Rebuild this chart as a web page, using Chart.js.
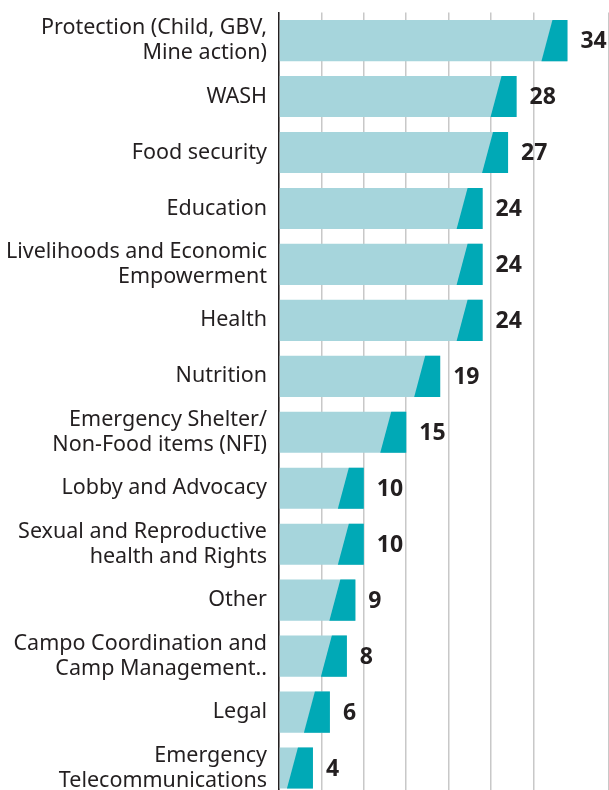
<!DOCTYPE html>
<html>
<head>
<meta charset="utf-8">
<script src="https://cdn.jsdelivr.net/npm/chart.js@4.4.1/dist/chart.umd.min.js"></script>
<style>
  html, body { margin: 0; padding: 0; background: #fff; overflow: hidden; }
  #wrap { width: 609px; height: 796px; }
</style>
</head>
<body>
<div id="wrap"><canvas id="chart1"></canvas></div>
<script>
var categories = [
    ["Protection (Child, GBV,", "Mine action)"],
    "WASH",
    "Food security",
    "Education",
    ["Livelihoods and Economic", "Empowerment"],
    "Health",
    "Nutrition",
    ["Emergency Shelter/", "Non-Food items (NFI)"],
    "Lobby and Advocacy",
    ["Sexual and Reproductive", "health and Rights"],
    "Other",
    ["Campo Coordination and", "Camp Management.."],
    "Legal",
    ["Emergency", "Telecommunications"]
];
var counts = [34, 28, 27, 24, 24, 24, 19, 15, 10, 10, 9, 8, 6, 4];

var lightTeal = '#a6d5dc';
var darkTeal = '#00a9b6';
var textColor = '#231f20';

// dark slanted cap at the end of every bar + the value label
var barEnds = {
    id: 'barEnds',
    afterDatasetsDraw: function(chart) {
        var ctx = chart.ctx;
        var meta = chart.getDatasetMeta(0);
        ctx.save();
        meta.data.forEach(function(bar, i) {
            var top = bar.y - bar.height / 2;
            var bottom = bar.y + bar.height / 2;
            ctx.fillStyle = darkTeal;
            ctx.beginPath();
            ctx.moveTo(bar.x - 15, top);
            ctx.lineTo(bar.x, top);
            ctx.lineTo(bar.x, bottom);
            ctx.lineTo(bar.x - 26, bottom);
            ctx.closePath();
            ctx.fill();

            ctx.fillStyle = textColor;
            ctx.font = 'bold 23px "Noto Sans"';
            ctx.textAlign = 'left';
            ctx.textBaseline = 'middle';
            ctx.fillText(counts[i], bar.x + 13, bar.y + 1);
        });
        ctx.restore();
    }
};

var ctx = document.getElementById("chart1").getContext('2d');
var chart1 = new Chart(ctx, {
    type: 'bar',
    data: {
        labels: categories,
        datasets: [{
            data: counts,
            backgroundColor: lightTeal,
            borderWidth: 0,
            barPercentage: 0.735,
            categoryPercentage: 1
        }]
    },
    options: {
        indexAxis: 'y',
        responsive: true,
        maintainAspectRatio: false,
        animation: false,
        layout: { padding: { top: 12.6, right: 0, bottom: 0, left: 0 } },
        plugins: {
            legend: { display: false },
            tooltip: { enabled: false }
        },
        scales: {
            x: {
                min: 0,
                max: 38.9,
                ticks: { display: false, stepSize: 5 },
                grid: { color: '#c8c8c8', lineWidth: 1.5, drawTicks: false },
                border: { display: false },
                afterFit: function(scale) {
                    scale.height = 0;
                    scale.paddingLeft = 0;
                    scale.paddingRight = 0;
                }
            },
            y: {
                ticks: {
                    color: textColor,
                    padding: 12,
                    font: { family: '"Noto Sans"', size: 21.5, lineHeight: 1.16 }
                },
                grid: { display: false, drawTicks: false },
                border: { display: true, color: textColor, width: 1.5 },
                afterFit: function(scale) {
                    scale.width = 279;
                    scale.paddingTop = 0;
                    scale.paddingBottom = 0;
                }
            }
        }
    },
    plugins: [barEnds]
});
</script>
</body>
</html>
